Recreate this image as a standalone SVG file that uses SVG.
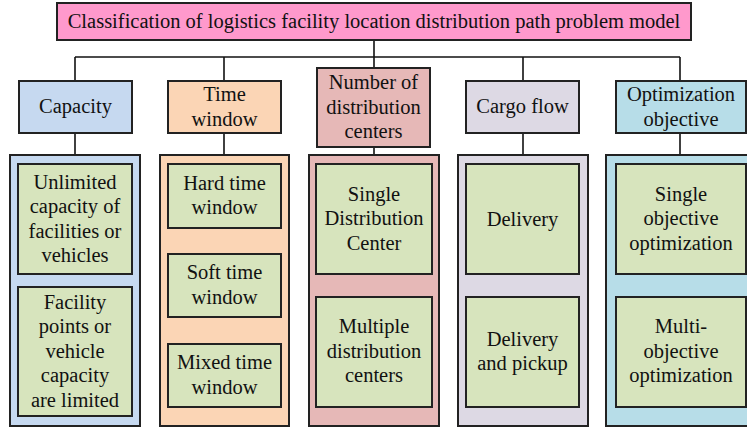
<svg xmlns="http://www.w3.org/2000/svg" width="747" height="428" viewBox="0 0 747 428">
<style>
text{font-family:'Liberation Serif','Times New Roman','DejaVu Serif',serif;font-size:20.5px;fill:#111;text-anchor:middle}
.box{stroke:#222;stroke-width:2}
.leaf{fill:#D7E4BD;stroke:#222;stroke-width:2}
.conn line{stroke:#111;stroke-width:1.6}
</style>
<rect width="747" height="428" fill="#fff"/>
<g class="conn" id="connectors">
<line x1="374" y1="40" x2="374" y2="57"/>
<line x1="75" y1="57" x2="680" y2="57"/>
<line x1="75" y1="57" x2="75" y2="81"/>
<line x1="224" y1="57" x2="224" y2="81"/>
<line x1="374" y1="57" x2="374" y2="68"/>
<line x1="523" y1="57" x2="523" y2="81"/>
<line x1="680" y1="57" x2="680" y2="81"/>
<line x1="75" y1="133" x2="75" y2="155"/>
<line x1="224" y1="133" x2="224" y2="155"/>
<line x1="374" y1="147" x2="374" y2="155"/>
<line x1="523" y1="133" x2="523" y2="155"/>
<line x1="680" y1="133" x2="680" y2="155"/>
</g>
<g id="title">
<rect class="box" x="57" y="3" width="634" height="37" fill="#FF99CC"/>
<text x="374" y="28" font-family="Liberation Serif, serif">Classification of logistics facility location distribution path problem model</text>
</g>
<g id="capacity">
<rect class="box" x="19" y="81" width="113" height="52" fill="#C6D9F0"/>
<text x="75.5" y="113">Capacity</text>
</g>
<g id="time-window">
<rect class="box" x="168" y="81" width="113" height="52" fill="#FBD5B5"/>
<text x="224.5" y="101">Time</text>
<text x="224.5" y="125.5">window</text>
</g>
<g id="number-centers">
<rect class="box" x="317" y="68" width="113" height="79" fill="#E6B8B7"/>
<text x="373.5" y="89">Number of</text>
<text x="373.5" y="113.5">distribution</text>
<text x="373.5" y="138">centers</text>
</g>
<g id="cargo-flow">
<rect class="box" x="466" y="81" width="113" height="52" fill="#DDD9E4"/>
<text x="522.5" y="113">Cargo flow</text>
</g>
<g id="optimization">
<rect class="box" x="616" y="81" width="130" height="52" fill="#B7DDE8"/>
<text x="681" y="101">Optimization</text>
<text x="681" y="125.5">objective</text>
</g>
<g id="capacity-group">
<rect class="box" x="10" y="155" width="130" height="271" fill="#C6D9F0"/>
<rect class="leaf" x="18" y="164" width="114" height="110"/>
<text x="75" y="188.5">Unlimited</text>
<text x="75" y="213">capacity of</text>
<text x="75" y="237.5">facilities or</text>
<text x="75" y="262">vehicles</text>
<rect class="leaf" x="18" y="287" width="114" height="129"/>
<text x="75" y="308.5">Facility</text>
<text x="75" y="333">points or</text>
<text x="75" y="357.5">vehicle</text>
<text x="75" y="382">capacity</text>
<text x="75" y="406.5">are limited</text>
</g>
<g id="time-group">
<rect class="box" x="160" y="155" width="129" height="271" fill="#FBD5B5"/>
<rect class="leaf" x="168" y="164" width="113" height="64"/>
<text x="224.5" y="189.5">Hard time</text>
<text x="224.5" y="214">window</text>
<rect class="leaf" x="168" y="254" width="113" height="63"/>
<text x="224.5" y="279">Soft time</text>
<text x="224.5" y="303.5">window</text>
<rect class="leaf" x="168" y="344" width="113" height="63"/>
<text x="224.5" y="369">Mixed time</text>
<text x="224.5" y="393.5">window</text>
</g>
<g id="number-group">
<rect class="box" x="309" y="155" width="130" height="271" fill="#E6B8B7"/>
<rect class="leaf" x="316" y="164" width="116" height="110"/>
<text x="374" y="200.5">Single</text>
<text x="374" y="225">Distribution</text>
<text x="374" y="249.5">Center</text>
<rect class="leaf" x="316" y="297" width="116" height="110"/>
<text x="374" y="333">Multiple</text>
<text x="374" y="357.5">distribution</text>
<text x="374" y="382">centers</text>
</g>
<g id="cargo-group">
<rect class="box" x="458" y="155" width="130" height="271" fill="#DDD9E4"/>
<rect class="leaf" x="466" y="164" width="113" height="110"/>
<text x="522.5" y="225.5">Delivery</text>
<rect class="leaf" x="466" y="297" width="113" height="110"/>
<text x="522.5" y="345.5">Delivery</text>
<text x="522.5" y="370">and pickup</text>
</g>
<g id="optimization-group">
<rect class="box" x="606" y="155" width="150" height="271" fill="#B7DDE8"/>
<rect class="leaf" x="616" y="164" width="130" height="110"/>
<text x="681" y="200.5">Single</text>
<text x="681" y="225">objective</text>
<text x="681" y="249.5">optimization</text>
<rect class="leaf" x="616" y="297" width="130" height="110"/>
<text x="681" y="333">Multi-</text>
<text x="681" y="357.5">objective</text>
<text x="681" y="382">optimization</text>
</g>
</svg>
